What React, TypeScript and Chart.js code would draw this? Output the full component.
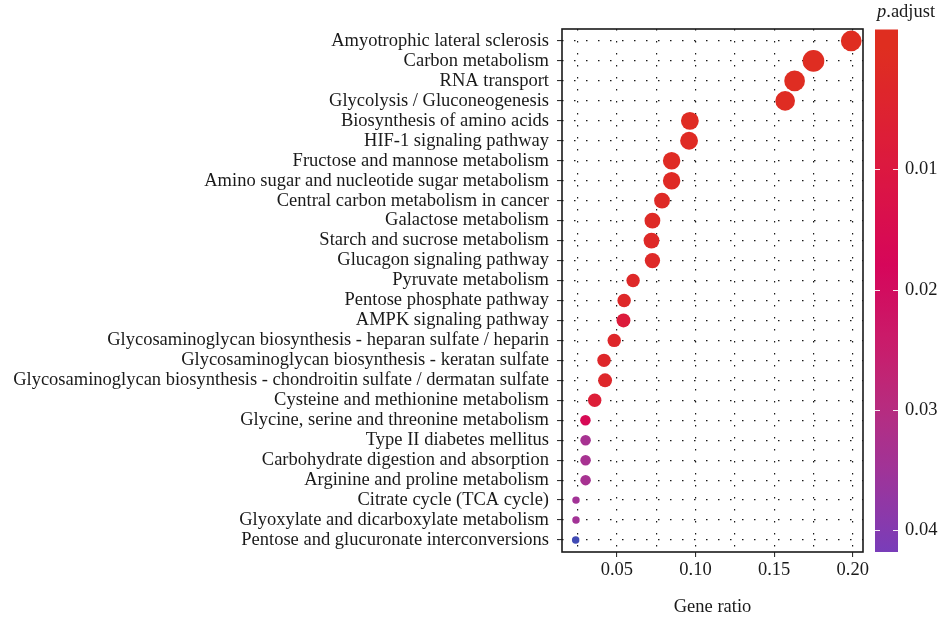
import React, { useEffect, useRef } from "react";
import { Chart, registerables } from "chart.js";

Chart.register(...registerables);

const pathways = [
  "Amyotrophic lateral sclerosis",
  "Carbon metabolism",
  "RNA transport",
  "Glycolysis / Gluconeogenesis",
  "Biosynthesis of amino acids",
  "HIF-1 signaling pathway",
  "Fructose and mannose metabolism",
  "Amino sugar and nucleotide sugar metabolism",
  "Central carbon metabolism in cancer",
  "Galactose metabolism",
  "Starch and sucrose metabolism",
  "Glucagon signaling pathway",
  "Pyruvate metabolism",
  "Pentose phosphate pathway",
  "AMPK signaling pathway",
  "Glycosaminoglycan biosynthesis - heparan sulfate / heparin",
  "Glycosaminoglycan biosynthesis - keratan sulfate",
  "Glycosaminoglycan biosynthesis - chondroitin sulfate / dermatan sulfate",
  "Cysteine and methionine metabolism",
  "Glycine, serine and threonine metabolism",
  "Type II diabetes mellitus",
  "Carbohydrate digestion and absorption",
  "Arginine and proline metabolism",
  "Citrate cycle (TCA cycle)",
  "Glyoxylate and dicarboxylate metabolism",
  "Pentose and glucuronate interconversions",
];

const geneRatio = [
  0.199, 0.175, 0.163, 0.157, 0.0964, 0.0959, 0.0848, 0.0848, 0.0787,
  0.0726, 0.072, 0.0726, 0.0603, 0.0546, 0.0542, 0.0483, 0.0418, 0.0425,
  0.0359, 0.03, 0.0301, 0.0301, 0.0301, 0.024, 0.024, 0.0238,
];

const geneCount = [
  31, 34, 31, 28, 23, 23, 22, 22, 18, 18, 18, 17, 13, 13, 14, 13, 13, 14, 13,
  8, 8, 8, 8, 4, 4, 4,
];

const pAdjust = [
  0.0004, 0.0005, 0.0006, 0.0008, 0.001, 0.0012, 0.0014, 0.0016, 0.0018,
  0.002, 0.0022, 0.0024, 0.0026, 0.0028, 0.0085, 0.003, 0.0032, 0.0034,
  0.0075, 0.0165, 0.0335, 0.0335, 0.0335, 0.0345, 0.0345, 0.05,
];

const xTicks = [0.025, 0.05, 0.075, 0.1, 0.125, 0.15, 0.175, 0.2];
const xTickLabels = ["", "0.05", "", "0.10", "", "0.15", "", "0.20"];
const colorbarTicks = [0.01, 0.02, 0.03, 0.04];
const colorbarTickLabels = ["0.01", "0.02", "0.03", "0.04"];

// colour scale for p.adjust
const colorStops: [number, number[]][] = [
  [0.0, [223, 46, 32]],
  [0.01, [220, 24, 64]],
  [0.018, [214, 6, 90]],
  [0.025, [200, 30, 108]],
  [0.03, [182, 44, 128]],
  [0.035, [160, 52, 152]],
  [0.042, [120, 61, 186]],
  [0.05, [64, 74, 180]],
];
const colorbarDomain = [-0.0016, 0.0418];

function pColor(p: number): string {
  if (p <= colorStops[0][0]) {
    const c = colorStops[0][1];
    return `rgb(${c[0]},${c[1]},${c[2]})`;
  }
  for (let i = 1; i < colorStops.length; i++) {
    const [p1, c1] = colorStops[i];
    const [p0, c0] = colorStops[i - 1];
    if (p <= p1) {
      const t = (p - p0) / (p1 - p0);
      const c = c0.map((v, k) => Math.round(v + (c1[k] - v) * t));
      return `rgb(${c[0]},${c[1]},${c[2]})`;
    }
  }
  const c = colorStops[colorStops.length - 1][1];
  return `rgb(${c[0]},${c[1]},${c[2]})`;
}

function countRadius(n: number): number {
  return 1.86 * Math.sqrt(n);
}

const FONT = "'Liberation Serif', 'Times New Roman', serif";
const FS = 18.5;

const overlayPlugin = {
  id: "overlay",
  afterDatasetsDraw(chart: any) {
    const { ctx, chartArea } = chart;
    ctx.save();
    ctx.strokeStyle = "#1a1a1a";
    ctx.lineWidth = 1.6;
    ctx.strokeRect(
      chartArea.left,
      chartArea.top,
      chartArea.right - chartArea.left,
      chartArea.bottom - chartArea.top
    );
    ctx.restore();
  },
  afterDraw(chart: any) {
    const { ctx, chartArea } = chart;
    const x0 = 875;
    const x1 = 898;
    const y0 = chartArea.top + 0.5;
    const y1 = chartArea.bottom;
    const [d0, d1] = colorbarDomain;
    const toY = (p: number) => y0 + ((p - d0) / (d1 - d0)) * (y1 - y0);
    ctx.save();
    const grad = ctx.createLinearGradient(0, y0, 0, y1);
    const n = 60;
    for (let i = 0; i <= n; i++) {
      const t = i / n;
      grad.addColorStop(t, pColor(d0 + (d1 - d0) * t));
    }
    ctx.fillStyle = grad;
    ctx.fillRect(x0, y0, x1 - x0, y1 - y0);
    // ticks
    ctx.strokeStyle = "rgba(255,255,255,0.9)";
    ctx.lineWidth = 1.2;
    ctx.font = `${FS}px ${FONT}`;
    ctx.fillStyle = "#1a1a1a";
    ctx.textBaseline = "middle";
    ctx.textAlign = "left";
    colorbarTicks.forEach((p, i) => {
      const y = Math.round(toY(p)) + 0.5;
      ctx.beginPath();
      ctx.moveTo(x0, y);
      ctx.lineTo(x0 + 5, y);
      ctx.moveTo(x1 - 5, y);
      ctx.lineTo(x1, y);
      ctx.stroke();
      ctx.fillText(colorbarTickLabels[i], 905, y);
    });
    // title
    ctx.textBaseline = "alphabetic";
    ctx.font = `italic ${FS}px ${FONT}`;
    ctx.fillText("p", 877, 17);
    const w = ctx.measureText("p").width;
    ctx.font = `${FS}px ${FONT}`;
    ctx.fillText(".adjust", 877 + w, 17);
    ctx.restore();
  },
};

export default function App() {
  const ref = useRef<HTMLCanvasElement | null>(null);

  useEffect(() => {
    if (!ref.current) return;
    const gridColor = "rgba(0,0,0,0.9)";
    const chart = new Chart(ref.current, {
      type: "scatter",
      data: {
        datasets: [
          {
            data: pathways.map((_, i) => ({ x: geneRatio[i], y: i })),
            pointRadius: (c: any) => countRadius(geneCount[c.dataIndex]),
            pointHoverRadius: (c: any) => countRadius(geneCount[c.dataIndex]),
            pointBackgroundColor: (c: any) => pColor(pAdjust[c.dataIndex]),
            pointBorderColor: (c: any) => pColor(pAdjust[c.dataIndex]),
            pointBorderWidth: 0,
          },
        ],
      },
      options: {
        animation: false,
        responsive: false,
        events: [],
        layout: { padding: { left: 0, right: 81, top: 29, bottom: 0 } },
        plugins: {
          legend: { display: false },
          tooltip: { enabled: false },
        },
        scales: {
          x: {
            type: "linear",
            min: 0.0151,
            max: 0.2065,
            afterBuildTicks: (s: any) => {
              s.ticks = xTicks.map((v) => ({ value: v }));
            },
            afterFit: (s: any) => {
              s.height = 67;
            },
            grid: {
              color: gridColor,
              lineWidth: 1.2,
              tickLength: 5,
              tickWidth: 1,
              tickColor: (c: any) =>
                xTickLabels[c.index] ? "#1a1a1a" : "rgba(0,0,0,0)",
            },
            border: { display: false, dash: [1.5, 10.5] },
            ticks: {
              autoSkip: false,
              maxRotation: 0,
              padding: 2,
              color: "#1a1a1a",
              font: { family: FONT, size: FS },
              callback: (_v: any, i: number) => xTickLabels[i],
            },
            title: {
              display: true,
              text: "Gene ratio",
              color: "#1a1a1a",
              font: { family: FONT, size: FS },
              padding: { top: 0, bottom: 1 },
            },
          },
          y: {
            type: "linear",
            reverse: true,
            min: -0.6,
            max: 25.6,
            afterBuildTicks: (s: any) => {
              s.ticks = pathways.map((_, i) => ({ value: i }));
            },
            afterFit: (s: any) => {
              s.width = 562;
            },
            grid: {
              color: gridColor,
              lineWidth: 1.2,
              tickLength: 5,
              tickWidth: 1,
              tickColor: "#1a1a1a",
            },
            border: { display: false, dash: [1.5, 10.5] },
            ticks: {
              autoSkip: false,
              padding: 8,
              color: "#1a1a1a",
              font: { family: FONT, size: FS },
              callback: (_v: any, i: number) => pathways[i],
            },
          },
        },
      },
      plugins: [overlayPlugin],
    } as any);
    return () => chart.destroy();
  }, []);

  return (
    <div
      style={{
        position: "fixed",
        left: 0,
        top: 0,
        width: 944,
        height: 619,
        background: "#fff",
      }}
    >
      <canvas
        ref={ref}
        width={944}
        height={619}
        style={{ display: "block", width: 944, height: 619 }}
      />
    </div>
  );
}
